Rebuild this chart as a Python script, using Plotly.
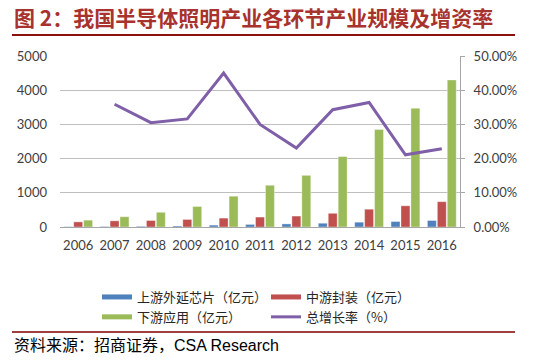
import plotly.graph_objects as go

years = ['2006', '2007', '2008', '2009', '2010', '2011', '2012', '2013', '2014', '2015', '2016']
upstream = [10, 15, 20, 30, 55, 75, 90, 110, 140, 160, 190]
midstream = [150, 180, 190, 220, 260, 290, 320, 400, 520, 620, 740]
downstream = [200, 300, 430, 600, 900, 1220, 1510, 2060, 2850, 3470, 4300]
growth = [None, 0.359, 0.305, 0.316, 0.450, 0.300, 0.231, 0.343, 0.364, 0.211, 0.229]

names = ['上游外延芯片（亿元）', '中游封装（亿元）', '下游应用（亿元）', '总增长率（%）']
colors = ['#4F81BD', '#C0504D', '#9BBB59', '#7F5FA8']
left_ticks = [0, 1000, 2000, 3000, 4000, 5000]
right_ticks = [0, 0.1, 0.2, 0.3, 0.4, 0.5]

W, H = 533, 364
L, R, T, B = 60, 73, 56, 137
pw, ph = W - L - R, H - T - B

def px(x):
    return (x - L) / pw

def py(y):
    return (H - B - y) / ph

fig = go.Figure()
for vals, name, col in zip([upstream, midstream, downstream], names[:3], colors[:3]):
    fig.add_trace(go.Bar(x=years, y=vals, name=name, marker=dict(color=col, line=dict(width=0.6, color='rgba(255,255,255,0.6)')),
                         showlegend=False))

fig.add_trace(go.Scatter(x=years, y=growth, yaxis='y2', mode='lines', name=names[3],
                         line=dict(color=colors[3], width=3), showlegend=False))

# legend entries
for i, (name, col) in enumerate(zip(names, colors)):
    fig.add_trace(go.Scatter(x=[None], y=[None], mode='lines', name=name,
                             line=dict(color=col, width=5 if i < 3 else 3), showlegend=True))

tickfont = dict(family='Lato, Open Sans, sans-serif', size=13, color='#404040')

fig.update_layout(
    width=W, height=H,
    margin=dict(l=L, r=R, t=T, b=B, autoexpand=False),
    paper_bgcolor='white', plot_bgcolor='white',
    barmode='group', bargap=0.18, bargroupgap=0.1,
    xaxis=dict(type='category', tickfont=tickfont, showline=True, linecolor='#A6A6A6', linewidth=1,
               ticks='', showgrid=False, ticklabelstandoff=6),
    yaxis=dict(range=[0, 5000], tickvals=left_ticks, tickfont=tickfont, showgrid=True,
               gridcolor='#BFBFBF', gridwidth=1, zeroline=False, showline=False, ticks='',
               ticklabelstandoff=12),
    yaxis2=dict(range=[0, 0.5], tickvals=right_ticks, tickformat='.2%', overlaying='y', side='right',
                tickfont=tickfont, showgrid=False, zeroline=False, showline=True, linecolor='#A6A6A6',
                ticks='outside', ticklen=4, tickcolor='#A6A6A6', ticklabelstandoff=6),
    legend=dict(orientation='h', x=px(97), y=py(282), xanchor='left', yanchor='top',
                entrywidth=124, font=dict(family='Noto Sans CJK SC', size=13, color='#262626'),
                bgcolor='rgba(0,0,0,0)', itemwidth=30),
    showlegend=True,
)

fig.add_annotation(text='<b>图 2：我国半导体照明产业各环节产业规模及增资率</b>', xref='paper', yref='paper',
                   x=px(12), y=py(17), xanchor='left', yanchor='middle', showarrow=False,
                   font=dict(family='Noto Sans CJK SC', size=21, color='#A8322D'))
fig.add_annotation(text='资料来源：招商证券，CSA Research', xref='paper', yref='paper',
                   x=px(12), y=py(345), xanchor='left', yanchor='middle', showarrow=False,
                   font=dict(family='Liberation Sans, Noto Sans CJK SC', size=16, color='black'))

fig.add_shape(type='line', xref='paper', yref='paper', x0=px(12), x1=px(515), y0=py(35), y1=py(35),
              line=dict(color='#8B1010', width=2))
fig.add_shape(type='line', xref='paper', yref='paper', x0=px(12), x1=px(515), y0=py(332), y1=py(332),
              line=dict(color='#7F0000', width=1.5))

fig.write_html('out.html', config={'displayModeBar': False},
               post_script="document.body.style.margin='0';")
